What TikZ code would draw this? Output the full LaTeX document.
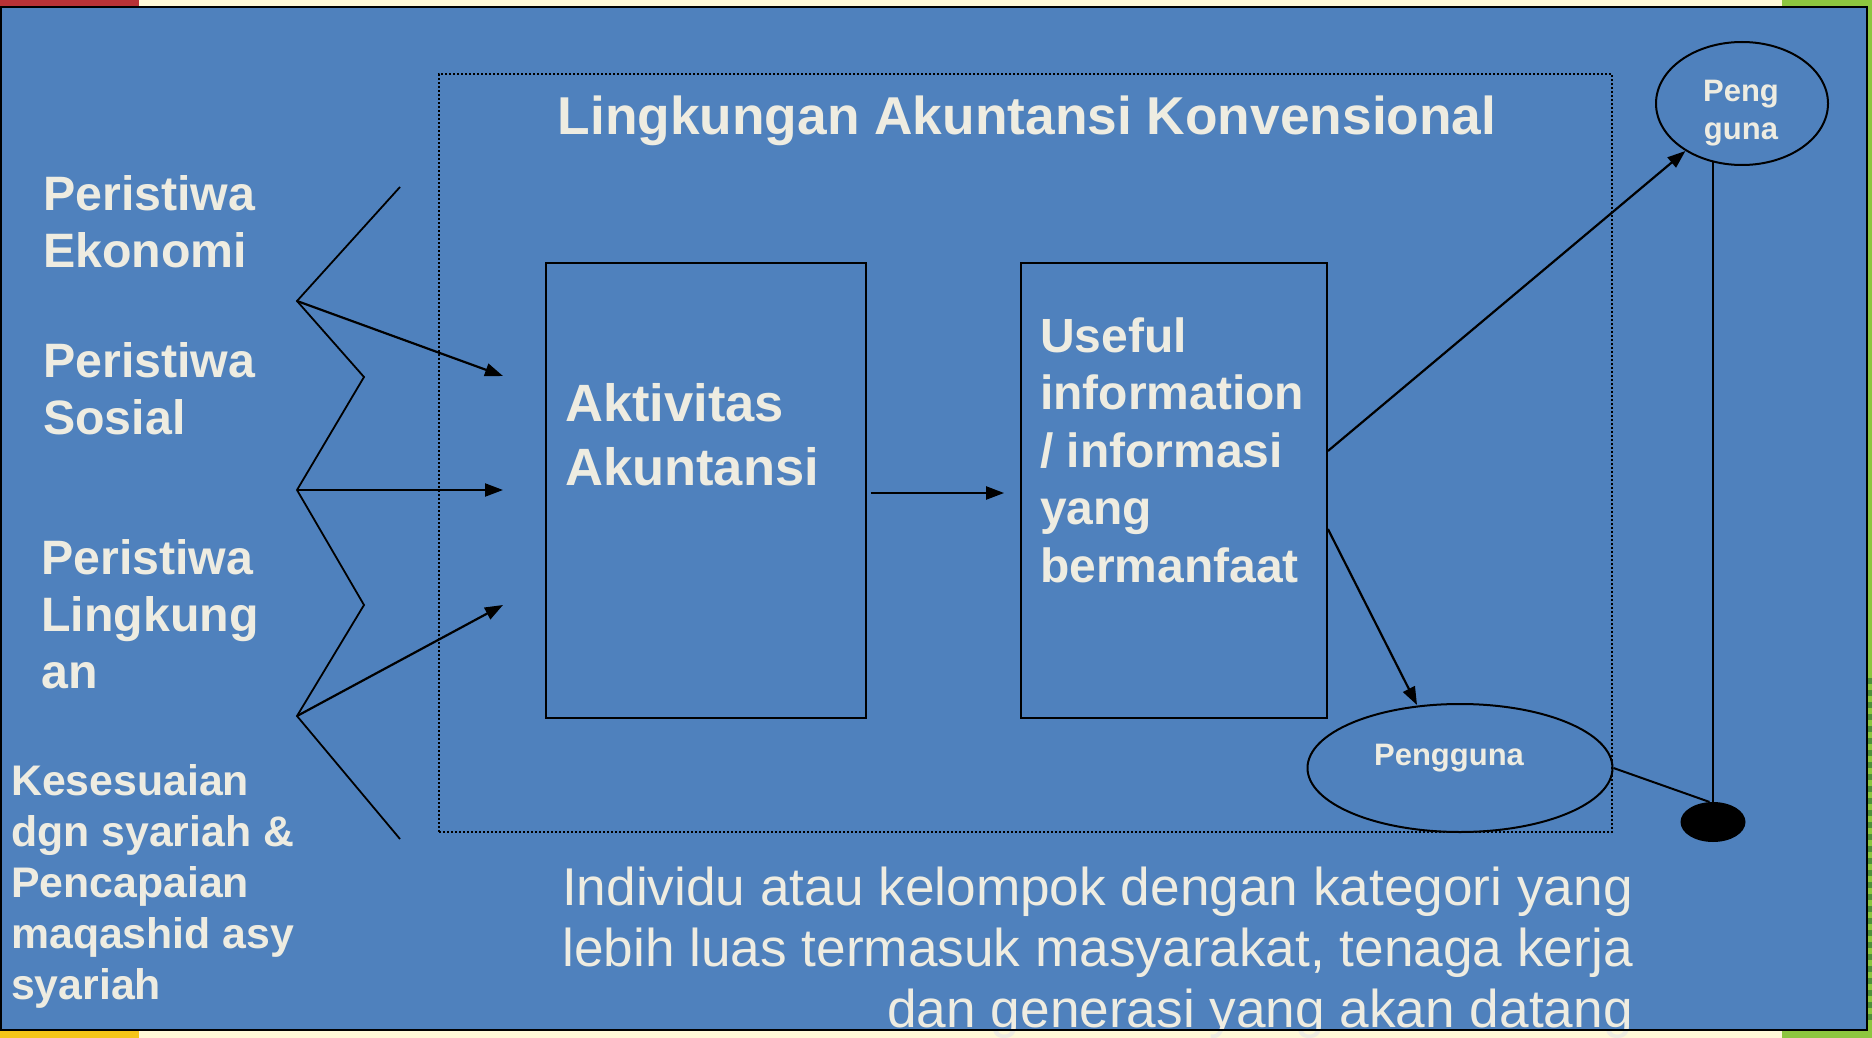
\documentclass[tikz,border=0pt]{standalone}
\usepackage{fontspec}
\setmainfont{Liberation Sans}
\usetikzlibrary{arrows.meta,calc,shapes.geometric}
\definecolor{slideblue}{HTML}{4F81BD}
\definecolor{creamtxt}{HTML}{EEECE1}
\definecolor{barred}{HTML}{B83236}
\definecolor{barcream}{HTML}{FFF9D8}
\definecolor{bargreen}{HTML}{8DC63F}
\definecolor{bardkgreen}{HTML}{4F8F3A}
\definecolor{baryellow}{HTML}{F5C518}
\newcommand{\mlines}[2][l]{\begin{tabular}[t]{@{}#1@{}}#2\end{tabular}}
\begin{document}
\begin{tikzpicture}[x=1pt,y=-1pt,
  lbl/.style={text=creamtxt,inner sep=0pt,anchor=base west},
  fs/.style n args={2}{font={\fontsize{#1}{#2}\selectfont\bfseries}},
  boxnode/.style={draw=black,line width=1.8pt,inner sep=0pt},
  ellnode/.style={ellipse,draw=black,line width=2pt,inner sep=0pt},
  zz/.style={line width=1.8pt,line join=miter},
  arr/.style={-{Triangle[length=18pt,width=13pt]},line width=2.2pt},
  ln/.style={line width=2pt}]
\useasboundingbox (0,0) rectangle (1872,1038);
% slide background and borders
\fill[barcream] (0,0) rectangle (1872,1038);
\fill[barred] (0,0) rectangle (139,7);
\fill[bargreen] (1782,0) rectangle (1872,7);
\fill[bargreen] (1866,0) rectangle (1872,1038);
\fill[bargreen] (1782,1030) rectangle (1872,1038);
\fill[baryellow] (0,1030) rectangle (139,1038);
\foreach \s in {678,690,...,1020} \fill[bardkgreen] (1867,\s) rectangle (1872,\s+6);
\fill[slideblue] (1,7) rectangle (1867,1030);

% dotted environment frame
\node[draw=black,line width=1.8pt,dash pattern=on 1.8pt off 2.2pt,inner sep=0pt,
      minimum width=1173,minimum height=758] (env) at (1025.5,453) {};

% title
\node[lbl,anchor=base,fs={53.3}{64}] (title) at (1027,135) {Lingkungan Akuntansi Konvensional};

% left labels
\node[lbl,fs={48.3}{57}] (ev1) at (43,211) {\mlines{Peristiwa\\Ekonomi}};
\node[lbl,fs={48.3}{57}] (ev2) at (43,377) {\mlines{Peristiwa\\Sosial}};
\node[lbl,fs={48.3}{57}] (ev3) at (41,574) {\mlines{Peristiwa\\Lingkung\\an}};
\node[lbl,fs={42.8}{51}] (kes) at (11,795) {\mlines{Kesesuaian\\dgn syariah \&\\Pencapaian\\maqashid asy\\syariah}};

% boxes
\node[boxnode,minimum width=320,minimum height=455] (akt) at (706,490.5) {};
\node[boxnode,minimum width=306,minimum height=455] (use) at (1174,490.5) {};
\node[lbl,fs={52.5}{64}] (akttxt) at (565,421) {\mlines{Aktivitas\\Akuntansi}};
\node[lbl,fs={48}{57.5}] (usetxt) at (1040,352) {\mlines{Useful\\information\\/ informasi\\yang\\bermanfaat}};

% users
\node[ellnode,minimum width=172,minimum height=123] (pg1) at (1742,103.5) {};
\node[lbl,anchor=base,fs={31}{38}] (pg1txt) at (1741,102) {\mlines[c]{Peng\\guna}};
\node[ellnode,minimum width=305,minimum height=128] (pg2) at (1460,768) {};
\node[lbl,anchor=base,fs={31}{38}] (pg2txt) at (1449,765) {Pengguna};
\node[ellipse,fill=black,inner sep=0pt,minimum width=65,minimum height=40] (dot) at (1713,822) {};

% zigzag and arrows on the left
\coordinate (z1) at (400,187);
\coordinate (z2) at (297,301);
\coordinate (z3) at (364,377);
\coordinate (z4) at (297,490);
\coordinate (z5) at (364,605);
\coordinate (z6) at (297,716);
\coordinate (z7) at (400,839);
\coordinate (a1) at (503,376);
\coordinate (a2) at (503,490);
\coordinate (a3) at (503,605);
\draw[zz] (z1) -- (z2) -- (z3) -- (z4) -- (z5) -- (z6) -- (z7);
\draw[arr] (z2) -- (a1);
\draw[arr] (z4) -- (a2);
\draw[arr] (z6) -- (a3);

% flow arrows
\draw[arr] ($(akt.east)+(4,2.5)$) -- ($(use.west)+(-16,2.5)$);
\draw[arr] ($(use.east)+(0,-39.5)$) -- (pg1);
\draw[arr] ($(use.east)+(0,38.5)$) -- ($(pg2.center)+(-43,-63)$);
\draw[ln] (pg2.east) -- (dot.100);
\draw[ln] (dot.north) -- ($(pg1.center)+(-29,58)$);

% bottom text
\node[text=creamtxt,inner sep=0pt,anchor=base east,font={\fontsize{53.2}{61}\selectfont}] (btm) at (1633,905)
  {\mlines[r]{Individu atau kelompok dengan kategori yang\\lebih luas termasuk masyarakat, tenaga kerja\\dan generasi yang akan datang}};

% slide frame line
\draw[line width=2pt] (1,7) rectangle (1867,1030);
\end{tikzpicture}
\end{document}
